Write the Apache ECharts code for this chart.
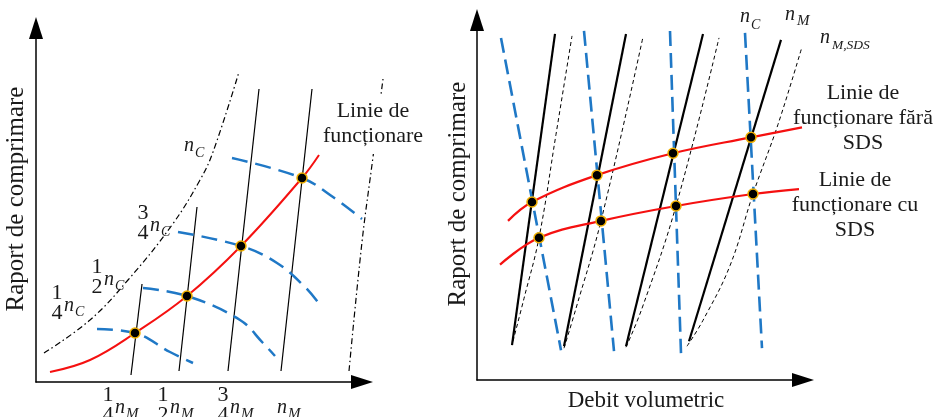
<!DOCTYPE html>
<html>
<head>
<meta charset="utf-8">
<script src="https://cdn.jsdelivr.net/npm/echarts@6/dist/echarts.min.js"></script>
<style>
  html, body { margin: 0; padding: 0; background: #fff; }
  #chart { width: 940px; height: 417px; }
</style>
</head>
<body>
<div id="chart"></div>
<script>
// ---------- Left map: compressor / motor speed characteristics ----------
const leftOperatingLine = [[14, 10], [54, 22], [99, 49], [151, 86], [205, 136], [266, 204], [283, 227]];
const leftOperatingPoints = [[99, 49], [151, 86], [205, 136], [266, 204]];
const leftMotorSpeeds = [
  [[95, 7], [106, 98]],
  [[143, 11], [161, 175]],
  [[192, 11], [223, 293]],
  [[245, 11], [276, 293]]
];
const leftCompressorSpeeds = [
  [[61, 53], [99, 49], [134, 30], [157, 19]],
  [[107, 94], [151, 86], [204, 62], [227, 39], [239, 26]],
  [[142, 150], [205, 136], [241, 119], [269, 95], [284, 77]],
  [[196, 224], [266, 204], [297, 185], [326, 163]]
];
const leftSurgeLimit = [[8, 29], [54, 62], [92, 102], [136, 157], [164, 202], [177, 230], [203, 310]];
const leftChokeLimit = [[313, 11], [326, 140], [337, 225], [347, 303]];
const leftCompressorLabels = [['1', '4'], ['1', '2'], ['3', '4']];
const leftMotorLabels = [['1', '4'], ['1', '2'], ['3', '4'], null];

// ---------- Right map: operation with and without SDS ----------
const rightMotorSpeeds = [
  [[35, 35], [78, 348]],
  [[87, 34], [149, 348]],
  [[149, 34], [226, 348]],
  [[212, 39], [304, 342]]
];
const rightMotorSpeedsSDS = [
  [[36, 39], [47, 82], [62, 143], [79, 247], [95, 346]],
  [[87, 32], [99, 72], [124, 160], [166, 345]],
  [[149, 33], [165, 72], [199, 175], [242, 344]],
  [[210, 34], [226, 60], [253, 115], [276, 187], [301, 257], [325, 335]]
];
const rightCompressorSpeeds = [
  [[24, 344], [84, 30]],
  [[107, 351], [137, 29]],
  [[193, 351], [204, 27]],
  [[268, 349], [285, 32]]
];
const rightOperatingNoSDS = [[31, 160], [55, 179], [120, 206], [196, 228], [274, 244], [325, 254]];
const rightOperatingSDS = [[23, 116], [62, 143], [124, 160], [199, 175], [276, 187], [322, 192]];
const rightPointsNoSDS = [[55, 179], [120, 206], [196, 228], [274, 244]];
const rightPointsSDS = [[62, 143], [124, 160], [199, 175], [276, 187]];

const yAxisTitle = 'Raport de comprimare';
const xAxisTitle = 'Debit volumetric';

// ---------- Styling ----------
const SERIF = 'Liberation Serif';
const INK = '#1a1a1a';
const RED = '#f51010';
const BLUE = '#1f78c6';

function arrowLine() {
  return {
    show: true, onZero: false,
    symbol: ['none', 'triangle'], symbolSize: [14, 22],
    lineStyle: { color: '#000', width: 1.5 }
  };
}
function valueAxis(gridIndex, max, showLine, extra) {
  return Object.assign({
    type: 'value', gridIndex, min: 0, max,
    axisLine: showLine ? arrowLine() : { show: false },
    axisTick: { show: false },
    axisLabel: { show: false },
    splitLine: { show: false }
  }, extra || {});
}
function line(grid, data, lineStyle, extra) {
  return Object.assign({
    type: 'line', xAxisIndex: grid, yAxisIndex: grid, data,
    showSymbol: false, symbol: 'none', clip: false, silent: true,
    lineStyle: Object.assign({ cap: 'butt' }, lineStyle)
  }, extra || {});
}
function dots(grid, data) {
  return {
    type: 'scatter', xAxisIndex: grid, yAxisIndex: grid, data,
    symbolSize: 10, clip: false, silent: true, z: 10,
    itemStyle: { color: '#000', borderColor: '#f0b000', borderWidth: 1.5, opacity: 1 }
  };
}

const series = [];
// left map
leftMotorSpeeds.forEach(d => series.push(line(0, d, { color: '#000', width: 1.2 })));
leftCompressorSpeeds.forEach(d => series.push(line(0, d, { color: BLUE, width: 2.5, type: [16, 8] }, { smooth: 0.4 })));
series.push(line(0, leftSurgeLimit, { color: '#000', width: 1.2, type: [6, 3, 1.5, 3] }, { smooth: 0.4 }));
series.push(line(0, leftChokeLimit, { color: '#000', width: 1.2, type: [6, 3, 1.5, 3] }, { smooth: 0.4 }));
series.push(line(0, leftOperatingLine, { color: RED, width: 2 }, { smooth: 0.4, z: 5 }));
series.push(dots(0, leftOperatingPoints));
// right map
rightMotorSpeeds.forEach(d => series.push(line(1, d, { color: '#000', width: 2.2 })));
rightMotorSpeedsSDS.forEach(d => series.push(line(1, d, { color: '#000', width: 1, type: [4, 3] }, { smooth: 0.4 })));
rightCompressorSpeeds.forEach(d => series.push(line(1, d, { color: BLUE, width: 2.6, type: [15, 7] })));
series.push(line(1, rightOperatingNoSDS, { color: RED, width: 2.2 }, { smooth: 0.4, z: 5 }));
series.push(line(1, rightOperatingSDS, { color: RED, width: 2.2 }, { smooth: 0.4, z: 5 }));
series.push(dots(1, rightPointsNoSDS));
series.push(dots(1, rightPointsSDS));

// ---------- Text annotations ----------
function txt(x, y, text, size) {
  return {
    type: 'text', x, y, z: 100, silent: true,
    style: { text, fill: INK, font: size + 'px "' + SERIF + '"', align: 'center', verticalAlign: 'middle' }
  };
}
function italic(x, y, text, size) {
  return {
    type: 'text', x, y, z: 100, silent: true,
    style: { text, fill: INK, font: 'italic ' + size + 'px "' + SERIF + '"', align: 'left', verticalAlign: 'middle' }
  };
}
function caption(x, y, text) {
  return {
    type: 'text', x, y, z: 120, silent: true,
    style: {
      text, fill: INK, font: '22px "' + SERIF + '"', align: 'center', verticalAlign: 'middle',
      lineHeight: 25
    }
  };
}
// speed symbol n with a subscript, optionally preceded by a stacked fraction
function speedLabel(cx, barY, frac, sub, subSize) {
  const out = [];
  let nx = cx - 6;
  if (frac) {
    out.push(txt(cx, barY - 9, frac[0], 22));
    out.push(txt(cx, barY + 11, frac[1], 22));
    nx = cx + 7;
  }
  out.push(italic(nx, barY + 4, 'n', 20));
  out.push(italic(nx + 11, barY + 10, sub, subSize));
  return out;
}

const graphics = [];
[[57, 302], [97, 276], [143, 222]].forEach((p, i) => {
  graphics.push(...speedLabel(p[0], p[1], leftCompressorLabels[i], 'C', 14));
});
graphics.push(italic(184, 146, 'n', 20));
graphics.push(italic(195, 153, 'C', 14));
[[108, 404], [163, 404], [223, 404], [283, 404]].forEach((p, i) => {
  graphics.push(...speedLabel(p[0], p[1], leftMotorLabels[i], 'M', 15));
});
const leftCaption = caption(373, 124, 'Linie de\nfuncționare');
Object.assign(leftCaption.style, { backgroundColor: '#fff', padding: [6, 6, 4, 6], borderRadius: 14 });
graphics.push(leftCaption);

graphics.push(italic(740, 17, 'n', 20));
graphics.push(italic(751, 25, 'C', 14));
graphics.push(italic(785, 15, 'n', 20));
graphics.push(italic(797, 21, 'M', 15));
graphics.push(italic(820, 38, 'n', 20));
graphics.push(italic(832, 45, 'M,SDS', 13.5));
graphics.push(caption(863, 118, 'Linie de\nfuncționare fără\nSDS'));
graphics.push(caption(855, 205, 'Linie de\nfuncționare cu\nSDS'));

const yName = {
  name: yAxisTitle, nameLocation: 'middle', nameRotate: 90,
  nameTextStyle: { fontFamily: SERIF, fontSize: 25, color: INK, padding: [0, 0, 0, 12] }
};

const option = {
  animation: false,
  backgroundColor: '#fff',
  grid: [
    // left data area (extends past the drawn axis so the choke limit is not clipped)
    { left: 36, top: 28, width: 360, height: 354 },
    // right map
    { left: 477, top: 20, width: 326, height: 362 },
    // left drawn axes
    { left: 36, top: 28, width: 326, height: 354 }
  ],
  xAxis: [
    valueAxis(0, 360, false),
    valueAxis(1, 326, true, {
      name: xAxisTitle, nameLocation: 'middle', nameGap: 9,
      nameTextStyle: { fontFamily: SERIF, fontSize: 23, color: INK, verticalAlign: 'top', padding: [0, 0, 0, 12] }
    }),
    valueAxis(2, 326, true)
  ],
  yAxis: [
    valueAxis(0, 354, false),
    valueAxis(1, 362, true, Object.assign({ nameGap: 6 }, yName)),
    valueAxis(2, 354, true, Object.assign({ nameGap: 7 }, yName))
  ],
  series,
  graphic: graphics
};

const chart = echarts.init(document.getElementById('chart'), null, { renderer: 'canvas' });
chart.setOption(option);
</script>
</body>
</html>
